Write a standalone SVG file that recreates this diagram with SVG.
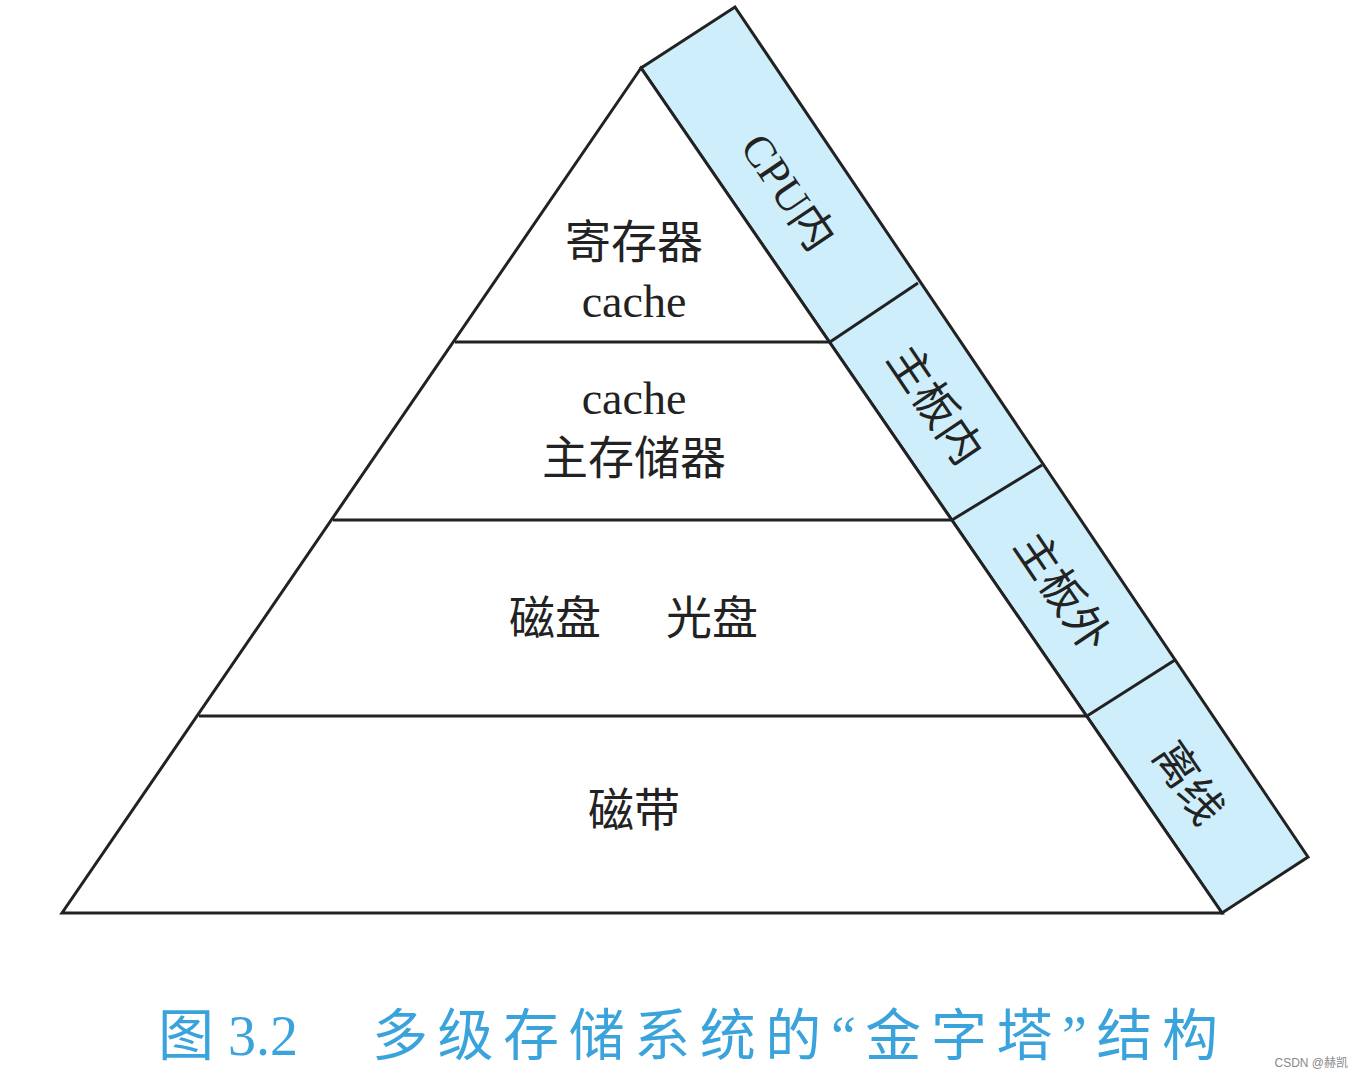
<svg xmlns="http://www.w3.org/2000/svg" width="1364" height="1078" viewBox="0 0 1364 1078">
<style>
.l{stroke:#222;stroke-width:3;fill:none}
.t{font-family:"Liberation Serif","Noto Sans CJK SC",serif;fill:#222;font-size:46px;text-anchor:middle}
.b{font-family:"Liberation Serif","Noto Sans CJK SC",serif;fill:#222;font-size:44px;text-anchor:middle}
.c{font-family:"Liberation Serif","Noto Sans CJK SC",serif;fill:#3aa3dc;font-size:56px}
</style>
<rect width="1364" height="1078" fill="#fff"/>
<g id="band">
<polygon points="641,68 735,7 1308,857 1222,913" class="l" style="fill:#cdeefa"/>
</g>
<g id="pyramid">
<polygon points="641,68 62,913 1222,913" class="l" style="fill:#fff"/>
</g>
<g id="connectors">
<line x1="455" y1="342" x2="830" y2="342" class="l"/>
<line x1="333" y1="520" x2="952" y2="520" class="l"/>
<line x1="199" y1="716" x2="1087" y2="716" class="l"/>
<line x1="830" y1="342" x2="918" y2="283" class="l"/>
<line x1="952" y1="520" x2="1042" y2="465" class="l"/>
<line x1="1087" y1="716" x2="1175" y2="660" class="l"/>
</g>
<g id="n1"><text class="t" x="634" y="258">寄存器</text><text class="t" x="634" y="317">cache</text></g>
<g id="n2"><text class="t" x="634" y="414">cache</text><text class="t" x="634" y="474">主存储器</text></g>
<g id="n3"><text class="t" x="555" y="634">磁盘</text><text class="t" x="712" y="634">光盘</text></g>
<g id="n4"><text class="t" x="634" y="826">磁带</text></g>
<g id="l1"><text class="b" transform="translate(788,192) rotate(56)" dy="15">CPU内</text></g>
<g id="l2"><text class="b" transform="translate(935,405) rotate(56)" dy="15">主板内</text></g>
<g id="l3"><text class="b" transform="translate(1062,592) rotate(56)" dy="15">主板外</text></g>
<g id="l4"><text class="b" transform="translate(1188,783) rotate(56)" dy="15">离线</text></g>
<g id="caption"><text class="c" x="158" y="1055">图 3.2</text><text class="c" x="372" y="1055" textLength="846" lengthAdjust="spacing">多级存储系统的“金字塔”结构</text></g>
<text x="1348" y="1067" font-family="Liberation Sans,Noto Sans CJK SC,sans-serif" font-size="12" fill="#888" text-anchor="end">CSDN @赫凯</text>
</svg>
